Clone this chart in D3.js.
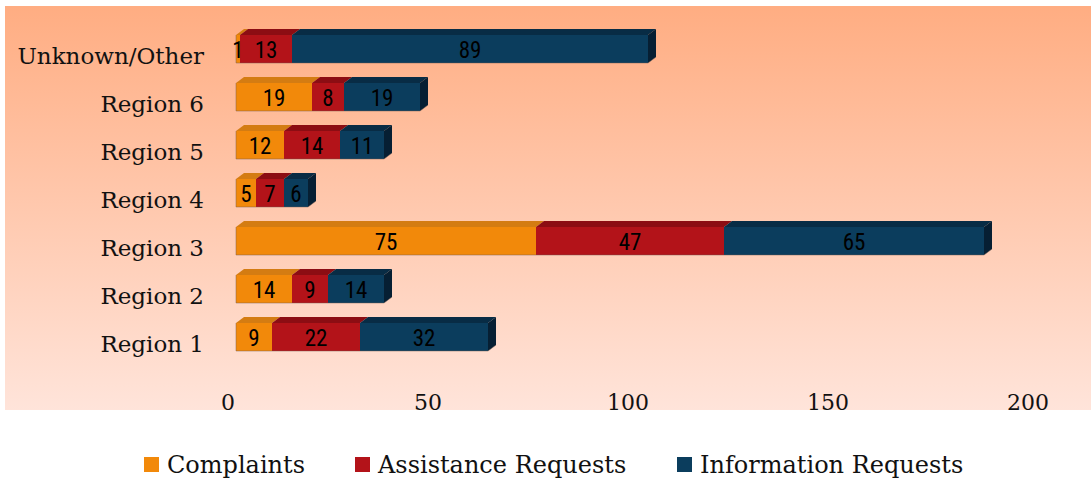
<!DOCTYPE html>
<html>
<head>
<meta charset="utf-8">
<script src="https://cdn.jsdelivr.net/npm/d3@7"></script>
<style>
  body { margin: 0; background: #fff; }
  svg text { fill: #111; }
</style>
</head>
<body>
<svg id="chart" width="1091" height="481"></svg>
<script>
const categories = ["Unknown/Other", "Region 6", "Region 5", "Region 4", "Region 3", "Region 2", "Region 1"];
const complaints = [1, 19, 12, 5, 75, 14, 9];
const assistance = [13, 8, 14, 7, 47, 9, 22];
const information = [89, 19, 11, 6, 65, 14, 32];
const seriesNames = ["Complaints", "Assistance Requests", "Information Requests"];
const ticks = [0, 50, 100, 150, 200];

const frontColors = ["#f2890a", "#b31319", "#0b3d5d"];
const topColors = ["#d47c12", "#8c0d13", "#082c45"];
const sideColors = ["#b86a0c", "#700a10", "#061f33"];

const svg = d3.select("#chart");

// fond dégradé
const grad = svg.append("defs").append("linearGradient")
   .attr("id", "bg").attr("x1", 0).attr("y1", 0).attr("x2", 0).attr("y2", 1);
grad.append("stop").attr("offset", "0%").attr("stop-color", "#ffad82");
grad.append("stop").attr("offset", "100%").attr("stop-color", "#ffe4da");
svg.append("rect").attr("x", 5).attr("y", 6).attr("width", 1086).attr("height", 404)
   .attr("fill", "url(#bg)");

const x = d3.scaleLinear().domain([0, 200]).range([236, 1036]);
const y = d3.scalePoint().domain(categories).range([49, 337]);
const h = 28, dx = 8, dy = 6;

const rows = categories.map((c, i) => {
   const vals = [complaints[i], assistance[i], information[i]];
   let acc = 0;
   const segs = vals.map((v, k) => { const s = { k, v, x0: acc, x1: acc + v }; acc += v; return s; });
   return { c, segs };
});

const g = svg.append("g");
rows.forEach(r => {
   const y0 = y(r.c) - h / 2, y1 = y(r.c) + h / 2;
   r.segs.forEach(s => {
      const a = x(s.x0), b = x(s.x1);
      g.append("polygon")
         .attr("points", [[a, y0], [a + dx, y0 - dy], [b + dx, y0 - dy], [b, y0]].join(" "))
         .attr("fill", topColors[s.k]);
      g.append("rect")
         .attr("x", a).attr("y", y0).attr("width", b - a).attr("height", h)
         .attr("fill", frontColors[s.k]);
   });
   const last = r.segs[r.segs.length - 1];
   const e = x(last.x1);
   g.append("polygon")
      .attr("points", [[e, y0], [e + dx, y0 - dy], [e + dx, y1 - dy], [e, y1]].join(" "))
      .attr("fill", sideColors[last.k]);
   // liseré gris
   g.append("path")
      .attr("d", `M${x(0)},${y0} L${x(0)},${y1} L${e},${y1} L${e + dx},${y1 - dy}`)
      .attr("fill", "none").attr("stroke", "rgba(110,90,80,0.45)").attr("stroke-width", 1);
   r.segs.forEach(s => {
      g.append("text")
         .attr("x", (x(s.x0) + x(s.x1)) / 2)
         .attr("y", y(r.c) + 8.5)
         .attr("text-anchor", "middle")
         .attr("font-family", "'Liberation Sans Narrow', 'Roboto Condensed', sans-serif")
         .attr("font-size", 23)
         .attr("style", "fill:#000")
         .text(s.v);
   });
   svg.append("text")
      .attr("x", 204).attr("y", y(r.c) + 15)
      .attr("text-anchor", "end")
      .attr("font-family", "'DejaVu Serif', serif")
      .attr("font-size", 23)
      .text(r.c);
});

// graduations
svg.selectAll(".tick").data(ticks).enter().append("text")
   .attr("x", d => x(d) - 8).attr("y", 410)
   .attr("text-anchor", "middle")
   .attr("font-family", "'DejaVu Serif', serif")
   .attr("font-size", 22)
   .text(d => d);

// légende
const legX = [144, 355, 677];
seriesNames.forEach((n, i) => {
   svg.append("rect").attr("x", legX[i]).attr("y", 457).attr("width", 15).attr("height", 15)
      .attr("fill", frontColors[i]);
   svg.append("text").attr("x", legX[i] + 23).attr("y", 473)
      .attr("font-family", "'DejaVu Serif', serif")
      .attr("font-size", 24)
      .text(n);
});
</script>
</body>
</html>
